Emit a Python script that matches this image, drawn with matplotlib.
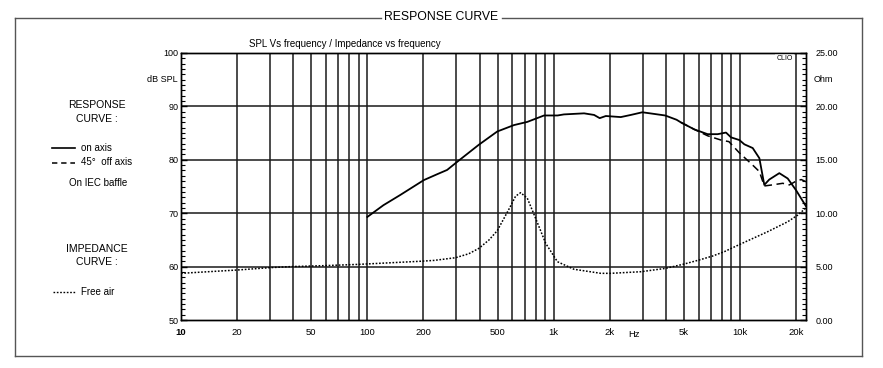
import matplotlib
matplotlib.use("Agg")
import matplotlib.pyplot as plt
from matplotlib.lines import Line2D
from matplotlib.ticker import FixedLocator

plt.rcParams['font.family'] = ['Liberation Sans', 'DejaVu Sans']

# ---------------- data ----------------
on_axis_freq = [100, 122, 150, 201, 237, 268, 303, 396, 498, 612, 722, 888, 1049,
                1135, 1456, 1648, 1766, 1905, 2292, 2593, 2991, 3446, 3966, 4566,
                4820, 5680, 6700, 7585, 8410, 8950, 9920, 10550, 11700, 12700,
                13500, 14350, 16250, 18030, 19990, 22600]
on_axis_db = [69.3, 71.5, 73.4, 76.2, 77.3, 78.1, 79.6, 82.8, 85.3, 86.5, 87.1, 88.3, 88.3,
              88.5, 88.7, 88.4, 87.8, 88.2, 88.0, 88.4, 88.9, 88.6, 88.3, 87.5,
              87.0, 85.7, 84.8, 84.8, 85.1, 84.2, 83.7, 82.9, 82.2, 80.3,
              75.3, 76.3, 77.5, 76.5, 74.3, 71.3]

off_axis_freq = [4820, 5680, 6700, 7900, 8720, 9920, 11700, 12700, 13500, 14900,
                 16950, 18400, 19990, 21300, 22600]
off_axis_db = [87.0, 85.7, 84.5, 83.7, 83.4, 81.3, 79.0, 77.8, 75.1, 75.3,
               75.6, 75.3, 76.0, 76.3, 75.9]

imp_freq = [10, 20, 30, 39, 59, 90, 193, 228, 297, 350, 397, 450, 498, 575, 625, 665,
            722, 800, 906, 1047, 1285, 1790, 2023, 2938, 4000, 5010, 6040, 7130,
            8240, 10000, 14080, 18030, 20430, 22600]
imp_ohm = [4.37, 4.68, 4.9, 5.0, 5.09, 5.21, 5.5, 5.58, 5.83, 6.2, 6.71, 7.5, 8.36, 10.37,
           11.6, 11.92, 11.4, 9.52, 7.18, 5.46, 4.75, 4.37, 4.37, 4.52, 4.84, 5.24,
           5.62, 5.99, 6.4, 7.09, 8.27, 9.2, 9.83, 10.5]

x_tick_pos = [10, 20, 50, 100, 200, 500, 1000, 2000, 5000, 10000, 20000]
x_tick_lab = ['10', '20', '50', '100', '200', '500', '1k', '2k', '5k', '10k', '20k']
grid_freqs = [20, 30, 40, 50, 60, 70, 80, 90, 100, 200, 300, 400, 500, 600, 700, 800,
              900, 1000, 2000, 3000, 4000, 5000, 6000, 7000, 8000, 9000, 10000, 20000]
spl_ticks = [50, 60, 70, 80, 90, 100]
ohm_ticks = [0, 5, 10, 15, 20, 25]
ohm_labels = ['0.00', '5.00', '10.00', '15.00', '20.00', '25.00']

# ---------------- figure ----------------
W, H = 883, 368
fig = plt.figure(figsize=(W / 100, H / 100), dpi=100)

def fx(px):
    return px / W

def fy(py):
    return 1 - py / H

# outer frame with title gap
frame_c = '#555555'
fig.add_artist(Line2D([fx(15), fx(15)], [fy(17.5), fy(355.5)], color=frame_c, lw=1.0))
fig.add_artist(Line2D([fx(861.5), fx(861.5)], [fy(17.5), fy(355.5)], color=frame_c, lw=1.0))
fig.add_artist(Line2D([fx(15), fx(861.5)], [fy(355.5), fy(355.5)], color=frame_c, lw=1.0))
fig.add_artist(Line2D([fx(15), fx(381)], [fy(17.5), fy(17.5)], color=frame_c, lw=1.0))
fig.add_artist(Line2D([fx(502), fx(861.5)], [fy(17.5), fy(17.5)], color=frame_c, lw=1.0))
fig.text(fx(441.5), fy(17.5), 'RESPONSE CURVE', ha='center', va='center', fontsize=8.8)

# axes
ax = fig.add_axes([fx(181), fy(320), fx(806) - fx(181), fy(53) - fy(320)])
ax.set_xscale('log')
ax.set_xlim(10, 22600)
ax.set_ylim(50, 100)

for f in grid_freqs:
    ax.axvline(f, color='#1a1a1a', lw=1.1, zorder=1)
for v in [60, 70, 80, 90]:
    ax.axhline(v, color='#1a1a1a', lw=1.1, zorder=1)

ax.plot(on_axis_freq, on_axis_db, color='black', lw=1.3, zorder=3)
ax.plot(off_axis_freq, off_axis_db, color='black', lw=1.1, ls=(0, (5, 3)), zorder=3)

ax2 = ax.twinx()
ax2.set_ylim(0, 25)
ax2.plot(imp_freq, imp_ohm, color='black', lw=1.1, ls=(0, (1.1, 1.1)), zorder=3)

# x ticks / labels
ax.xaxis.set_major_locator(FixedLocator(x_tick_pos))
ax.xaxis.set_minor_locator(FixedLocator([]))
ax.set_xticklabels(x_tick_lab)
ax.tick_params(axis='x', length=0, pad=6, labelsize=6.8)
ax.get_xticklabels()[0].set_fontweight('bold')
ax.text(2700, 48.2, 'Hz', ha='center', va='top', fontsize=6.8)

# y ticks left
ax.yaxis.set_major_locator(FixedLocator(spl_ticks))
ax.yaxis.set_minor_locator(FixedLocator(list(range(50, 101))))
ax.tick_params(axis='y', which='major', direction='in', length=4, width=1, pad=2, labelsize=6.5)
ax.tick_params(axis='y', which='minor', direction='in', length=3, width=0.8)
ax.text(-0.005, 95, 'dB SPL', transform=ax.get_yaxis_transform(), ha='right', va='center', fontsize=6.5)

# y ticks right
ax2.yaxis.set_major_locator(FixedLocator(ohm_ticks))
ax2.set_yticklabels(ohm_labels)
ax2.yaxis.set_minor_locator(FixedLocator([i * 0.5 for i in range(51)]))
ax2.tick_params(axis='y', which='major', direction='in', length=4, width=1, pad=7, labelsize=6.5)
ax2.tick_params(axis='y', which='minor', direction='in', length=3, width=0.8)
ax2.text(1.012, 22.5, 'Ohm', transform=ax2.get_yaxis_transform(), ha='left', va='center', fontsize=6.5)

for a in (ax, ax2):
    for s in a.spines.values():
        s.set_linewidth(1.0)
        s.set_color('black')

# CLIO label
ax.text(17300, 98.9, 'CLIO', ha='center', va='center', fontsize=5, zorder=5,
        bbox=dict(facecolor='white', edgecolor='none', pad=1.0))

# chart subtitle
fig.text(fx(345), fy(44), 'SPL Vs frequency / Impedance vs frequency', ha='center', va='center', fontsize=7)

# left legend block
fig.text(fx(97), fy(105), 'RESPONSE', ha='center', va='center', fontsize=7.5)
fig.text(fx(97), fy(119), 'CURVE :', ha='center', va='center', fontsize=7.5)
fig.add_artist(Line2D([fx(52), fx(75)], [fy(148), fy(148)], color='black', lw=1.2))
fig.text(fx(81), fy(148), 'on axis', ha='left', va='center', fontsize=7)
fig.add_artist(Line2D([fx(52), fx(75)], [fy(163), fy(163)], color='black', lw=1.1, ls=(0, (3.5, 2.5))))
fig.text(fx(81), fy(162), '45°  off axis', ha='left', va='center', fontsize=7)
fig.text(fx(98), fy(183), 'On IEC baffle', ha='center', va='center', fontsize=7)
fig.text(fx(97), fy(249), 'IMPEDANCE', ha='center', va='center', fontsize=7.5)
fig.text(fx(97), fy(262), 'CURVE :', ha='center', va='center', fontsize=7.5)
fig.add_artist(Line2D([fx(53), fx(75)], [fy(292), fy(292)], color='black', lw=1.0, ls=(0, (1.2, 1.2))))
fig.text(fx(81), fy(292), 'Free air', ha='left', va='center', fontsize=7)

fig.savefig('out.png', dpi=100)
